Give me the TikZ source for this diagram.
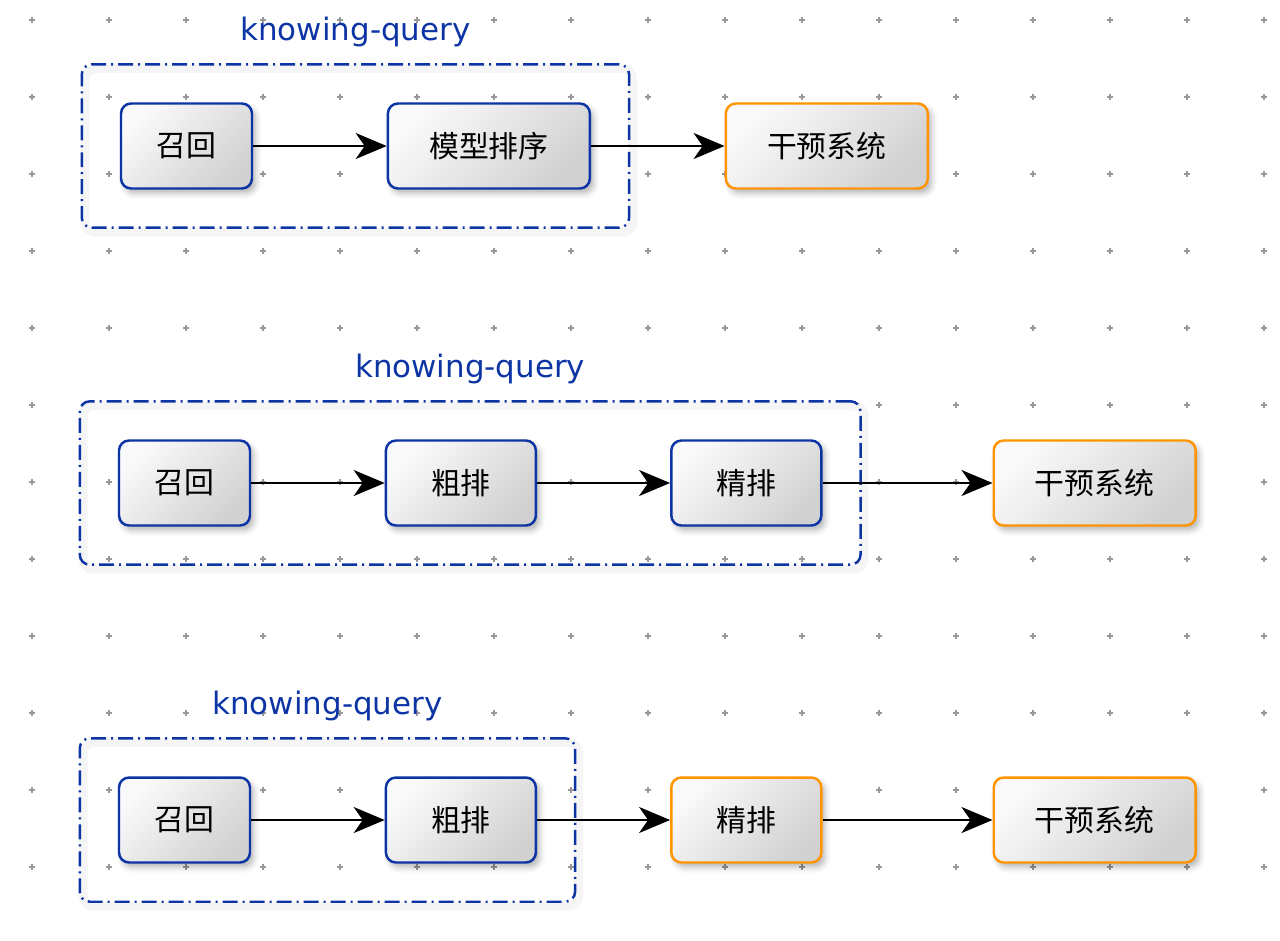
\documentclass[tikz,border=0pt]{standalone}
\usepackage{fontspec}
\setmainfont{DejaVu Sans}
\newfontfamily\cjk{Noto Sans CJK SC}
\usetikzlibrary{positioning,fit,shadows.blur,arrows.meta}

\definecolor{kqblue}{RGB}{12,52,165}
\definecolor{kqorange}{RGB}{255,148,0}

\tikzset{
  stage/.style={draw=kqblue, line width=1.4pt, rounded corners=0.2cm,
    minimum height=1.7cm, inner sep=0pt,
    top color=white!98!black, bottom color=white!82!black, shading angle=45,
    blur shadow={shadow xshift=0.07cm, shadow yshift=-0.09cm,
      shadow blur radius=0.12cm, shadow opacity=30},
    font=\cjk\fontsize{17}{20}\selectfont},
  extstage/.style={stage, draw=kqorange},
  group/.style={draw=kqblue, line width=1.4pt, rounded corners=0.2cm,
    dash pattern=on 0.3cm off 0.1cm on 0.04cm off 0.1cm, inner sep=0.76cm,
    preaction={draw=black!4, line width=5pt, solid,
      transform canvas={shift={(0.07cm,-0.09cm)}}}},
  grouplabel/.style={text=kqblue, font=\fontsize{17.6}{20}\selectfont},
  flow/.style={-{Stealth[length=0.62cm,width=0.52cm,inset=0.18cm]}, line width=1.2pt},
  gridmark/.style={draw=black!40, line width=0.6pt}
}

\begin{document}
\begin{tikzpicture}[x=0.02cm, y=-0.02cm]
\useasboundingbox (0,0) rectangle (1280,940);

% Dot grid
\foreach \i in {0,...,16}
  \foreach \j in {0,...,11}
    \draw[gridmark] (32+77*\i,20+77*\j) ++(-3,0) -- ++(6,0) ++(-3,-3) -- ++(0,6);

% Row 1
\node[stage, minimum width=2.62cm] (recall1) at (186.5,146) {召回};
\node[stage, minimum width=4.04cm, right=2.67cm of recall1] (rank1) {模型排序};
\node[extstage, minimum width=4.04cm, right=2.67cm of rank1] (inter1) {干预系统};
\node[group, fit=(recall1)(rank1)] (kq1) {};
\node[grouplabel] at ([yshift=0.62cm]kq1.north) {knowing-query};
\draw[flow] (recall1) -- (rank1);
\draw[flow] (rank1) -- (inter1);

% Row 2
\node[stage, minimum width=2.62cm] (recall2) at (184.5,483) {召回};
\node[stage, minimum width=3.0cm, right=2.67cm of recall2] (coarse2) {粗排};
\node[stage, minimum width=3.0cm, right=2.66cm of coarse2] (fine2) {精排};
\node[extstage, minimum width=4.04cm, right=3.4cm of fine2] (inter2) {干预系统};
\node[group, fit=(recall2)(fine2)] (kq2) {};
\node[grouplabel] at ([yshift=0.62cm]kq2.north) {knowing-query};
\draw[flow] (recall2) -- (coarse2);
\draw[flow] (coarse2) -- (fine2);
\draw[flow] (fine2) -- (inter2);

% Row 3
\node[stage, minimum width=2.62cm] (recall3) at (184.5,820) {召回};
\node[stage, minimum width=3.0cm, right=2.67cm of recall3] (coarse3) {粗排};
\node[extstage, minimum width=3.0cm, right=2.66cm of coarse3] (fine3) {精排};
\node[extstage, minimum width=4.04cm, right=3.4cm of fine3] (inter3) {干预系统};
\node[group, fit=(recall3)(coarse3)] (kq3) {};
\node[grouplabel] at ([yshift=0.62cm]kq3.north) {knowing-query};
\draw[flow] (recall3) -- (coarse3);
\draw[flow] (coarse3) -- (fine3);
\draw[flow] (fine3) -- (inter3);
\end{tikzpicture}
\end{document}
